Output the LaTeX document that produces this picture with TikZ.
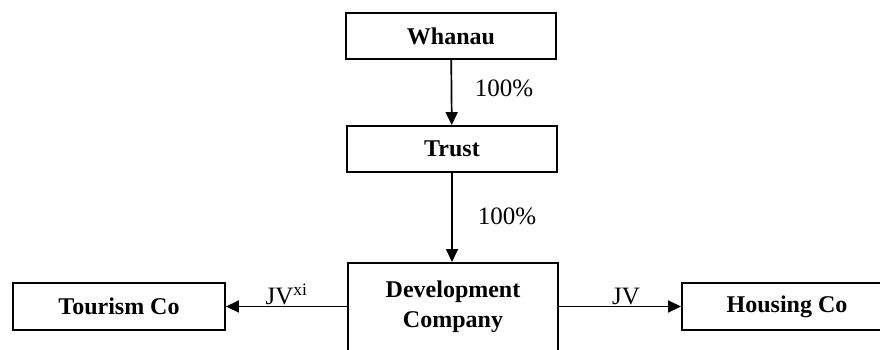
\documentclass[tikz,border=0pt]{standalone}
\usepackage{fontspec}
\setmainfont{Liberation Serif}
\usetikzlibrary{arrows.meta}
\begin{document}
\begin{tikzpicture}[x=1pt, y=-1pt,
    box/.style={draw, line width=1.9pt, minimum width=210pt, minimum height=46pt,
      inner sep=0pt, font=\fontsize{24}{30}\selectfont\bfseries},
    arr/.style={-{Triangle[length=13pt,width=12pt]}, line width=1.7pt},
    lbl/.style={font=\fontsize{25}{28}\selectfont, inner sep=1pt}]
    \useasboundingbox (0,0) rectangle (880,349);
    \clip (0,0) rectangle (880,349);
    % ownership chain
    \node[box] (whanau) at (451,36) {Whanau};
    \node[box] (trust) at (452,149) {Trust};
    \node[box, anchor=north, align=center, text height=65pt, text depth=40pt] (devco) at (453,262) {Development\\Company};
    \draw[arr] (whanau) -- (trust);
    \node[lbl] (pctone) at (504,88) {100\%};
    \draw[arr] (trust.south) -- (trust.south |- devco.north);
    \node[lbl] (pcttwo) at (507,216) {100\%};
    % joint ventures
    \node[box, minimum width=212pt, minimum height=47pt] (tourism) at (119,306.5) {Tourism Co};
    \node[box, minimum height=47pt] (housing) at (787,306.5) {Housing Co};
    \draw[arr] (tourism.east -| devco.west) -- (tourism.east)
        node[lbl, midway, above] (jvleft) {JV\textsuperscript{xi}};
    \draw[arr] (housing.west -| devco.east) -- (housing.west)
        node[lbl, pos=0.55, above] (jvright) {JV};
\end{tikzpicture}
\end{document}
